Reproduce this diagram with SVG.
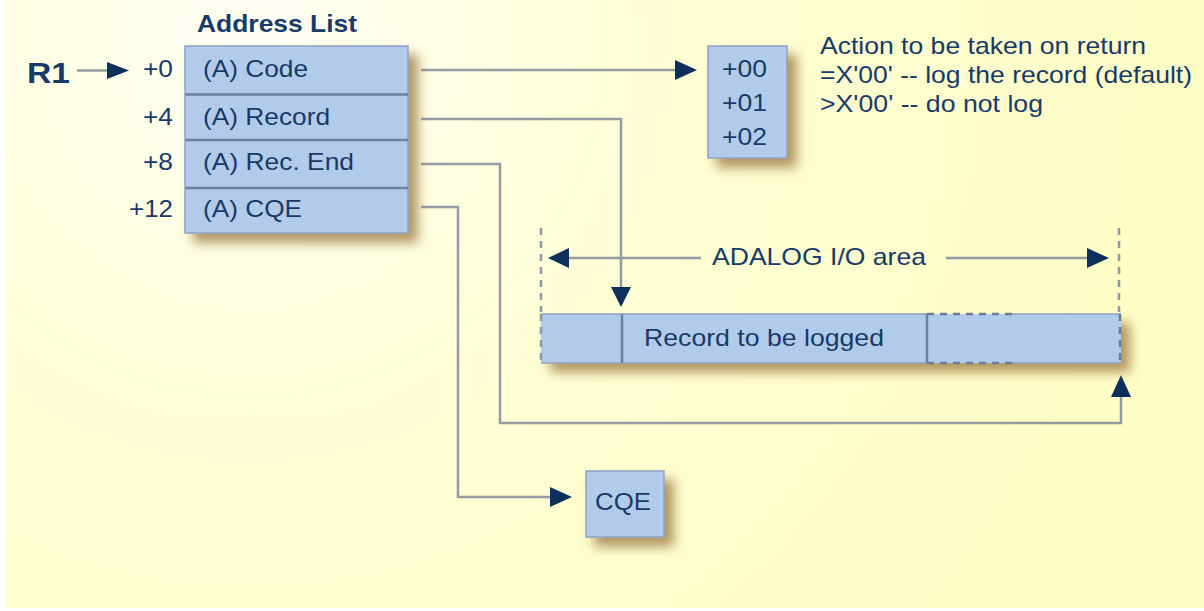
<svg xmlns="http://www.w3.org/2000/svg" width="1204" height="611" viewBox="0 0 1204 611">
  <defs>
    <radialGradient id="bg" cx="250" cy="40" r="900" gradientUnits="userSpaceOnUse">
      <stop offset="0" stop-color="#fffff4"/>
      <stop offset="0.45" stop-color="#fffed6"/>
      <stop offset="1" stop-color="#fffdc6"/>
    </radialGradient>
    <filter id="shadow" x="-20%" y="-20%" width="160%" height="160%">
      <feGaussianBlur in="SourceAlpha" stdDeviation="6"/>
      <feOffset dx="9" dy="9" result="b"/>
      <feFlood flood-color="#a3834c" flood-opacity="0.85"/>
      <feComposite in2="b" operator="in"/>
      <feMerge>
        <feMergeNode/>
        <feMergeNode in="SourceGraphic"/>
      </feMerge>
    </filter>
  </defs>
  <style>
    text { font-family: "Liberation Sans", Arial, sans-serif; fill: #183a68; font-size: 24px; }
    .bold { font-weight: bold; }
    .big { font-size: 30px; }
    .box { fill: #b3cbea; stroke: #8ea3c2; stroke-width: 1.5; }
    .sep { stroke: #6e819c; stroke-width: 2.5; fill: none; }
    .conn { fill: none; stroke: #949ba1; stroke-width: 2.5; }
    .dash { fill: none; stroke: #8d98a8; stroke-width: 2.5; stroke-dasharray: 7 6; }
    .dashdark { fill: none; stroke: #6d7d96; stroke-width: 2.5; stroke-dasharray: 7 6; }
    .head { fill: #0d2f5c; }
  </style>

  <!-- page background -->
  <rect x="0" y="0" width="1204" height="611" fill="#ffffff"/>
  <rect x="6" y="0" width="1198" height="608" fill="url(#bg)"/>

  <!-- connectors -->
  <g id="connectors">
    <!-- R1 pointer -->
    <path class="conn" d="M77,70.5 H107" stroke="#6f7880"/>
    <path class="head" d="M107,62 L129,70.5 L107,79 Z"/>
    <!-- Code -> return code byte -->
    <path class="conn" d="M421,70 H675"/>
    <path class="head" d="M675,60 L697,70 L675,80 Z"/>
    <!-- Record -> start of record -->
    <path class="conn" d="M421,119 H621 V287"/>
    <path class="head" d="M611,287 L621,307 L631,287 Z"/>
    <!-- Rec. End -> end of I/O area -->
    <path class="conn" d="M421,164 H500 V423 H1121 V397"/>
    <path class="head" d="M1111,397 L1121,375 L1131,397 Z"/>
    <!-- CQE -> CQE block -->
    <path class="conn" d="M421,207 H458 V497 H550"/>
    <path class="head" d="M550,487 L572,497 L550,507 Z"/>
    <!-- I/O area extent -->
    <path class="dash" d="M541,228 V312"/>
    <path class="dash" d="M1119,228 V312"/>
    <path class="conn" d="M569,258 H701 M946,258 H1087"/>
    <path class="head" d="M569,248 L548,258 L569,268 Z"/>
    <path class="head" d="M1087,248 L1109,258 L1087,268 Z"/>
    <text x="712" y="265" textLength="214" lengthAdjust="spacingAndGlyphs">ADALOG I/O area</text>
  </g>

  <!-- R1 register -->
  <g id="r1">
    <text x="27" y="83" class="bold big" textLength="43" lengthAdjust="spacingAndGlyphs">R1</text>
  </g>

  <!-- Address list -->
  <g id="address-list">
    <text x="197" y="32" class="bold" textLength="160" lengthAdjust="spacingAndGlyphs">Address List</text>
    <rect class="box" x="185" y="46" width="223" height="187" filter="url(#shadow)"/>
    <path class="sep" d="M185,94.5 H408 M185,140 H408 M185,188 H408"/>
    <text x="203" y="77" textLength="105" lengthAdjust="spacingAndGlyphs">(A) Code</text>
    <text x="203" y="125" textLength="127" lengthAdjust="spacingAndGlyphs">(A) Record</text>
    <text x="203" y="170" textLength="151" lengthAdjust="spacingAndGlyphs">(A) Rec. End</text>
    <text x="203" y="217" textLength="99" lengthAdjust="spacingAndGlyphs">(A) CQE</text>
    <text x="143" y="77" textLength="30" lengthAdjust="spacingAndGlyphs">+0</text>
    <text x="143" y="125" textLength="30" lengthAdjust="spacingAndGlyphs">+4</text>
    <text x="143" y="170" textLength="30" lengthAdjust="spacingAndGlyphs">+8</text>
    <text x="129" y="217" textLength="44" lengthAdjust="spacingAndGlyphs">+12</text>
  </g>

  <!-- return code byte -->
  <g id="return-code">
    <rect class="box" x="708" y="46" width="79" height="112" filter="url(#shadow)"/>
    <text x="722" y="77" textLength="45" lengthAdjust="spacingAndGlyphs">+00</text>
    <text x="722" y="111" textLength="45" lengthAdjust="spacingAndGlyphs">+01</text>
    <text x="722" y="145" textLength="45" lengthAdjust="spacingAndGlyphs">+02</text>
  </g>

  <g id="return-code-note">
    <text x="820" y="54" textLength="326" lengthAdjust="spacingAndGlyphs">Action to be taken on return</text>
    <text x="820" y="83" textLength="372" lengthAdjust="spacingAndGlyphs">=X'00' -- log the record (default)</text>
    <text x="820" y="112" textLength="223" lengthAdjust="spacingAndGlyphs">&gt;X'00' -- do not log</text>
  </g>

  <!-- ADALOG I/O area -->
  <g id="io-area">
    <rect x="541" y="314" width="580" height="49" fill="#b3cbea" filter="url(#shadow)"/>
    <path fill="none" stroke="#8ea3c2" stroke-width="1.5" d="M541,314 H927 M1012,314 H1121 M541,363 H927 M1012,363 H1121"/>
    <path class="dash" d="M541,314 V363"/>
    <path class="dashdark" d="M1120,314 V363"/>
    <path class="dashdark" d="M927,314 H1012 M927,363 H1012"/>
    <path class="sep" d="M622,314 V363 M927,314 V363"/>
    <text x="644" y="346" textLength="240" lengthAdjust="spacingAndGlyphs">Record to be logged</text>
  </g>

  <!-- CQE -->
  <g id="cqe">
    <rect class="box" x="586" y="471" width="78" height="66" filter="url(#shadow)"/>
    <text x="595" y="510" textLength="56" lengthAdjust="spacingAndGlyphs">CQE</text>
  </g>
</svg>
